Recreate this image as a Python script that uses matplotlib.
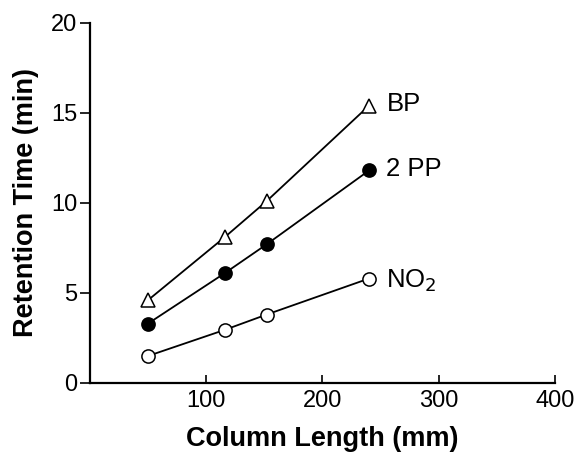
import matplotlib
matplotlib.use("Agg")
import matplotlib.pyplot as plt

plt.rcParams["font.family"] = ["Liberation Sans", "DejaVu Sans"]

# column length (mm) and retention times (min) for each solute
column_length = [50, 116, 152, 240]
bp_time = [4.6, 8.1, 10.1, 15.4]
pp_time = [3.3, 6.1, 7.7, 11.8]
no2_time = [1.5, 2.95, 3.8, 5.8]

x_ticks = [100, 200, 300, 400]
y_ticks = [0, 5, 10, 15, 20]

fig = plt.figure(figsize=(5.8, 4.57), dpi=100)
ax = fig.add_axes([0.155, 0.162, 0.802, 0.788])

line_kw = dict(color="black", linewidth=1.3, markersize=9.5, markeredgewidth=1.1,
               markeredgecolor="black")
ax.plot(column_length, bp_time, marker="^", markerfacecolor="white", **line_kw)
ax.plot(column_length, pp_time, marker="o", markerfacecolor="black", **line_kw)
ax.plot(column_length, no2_time, marker="o", markerfacecolor="white", **line_kw)

ax.text(255, bp_time[-1] + 0.1, "BP", fontsize=18.5, va="center", ha="left")
ax.text(255, pp_time[-1] + 0.1, "2 PP", fontsize=18.5, va="center", ha="left")
ax.text(255, no2_time[-1] - 0.1, "NO$_2$", fontsize=18.5, va="center", ha="left")

ax.set_xlim(0, 400)
ax.set_ylim(0, 20)
ax.set_xticks(x_ticks)
ax.set_yticks(y_ticks)
ax.tick_params(axis="x", direction="in", length=6, width=1.2, labelsize=17, pad=5)
ax.tick_params(axis="y", direction="out", length=7, width=1.2, labelsize=17, pad=2)

for side in ("top", "right"):
    ax.spines[side].set_visible(False)
for side in ("left", "bottom"):
    ax.spines[side].set_linewidth(1.6)

ax.set_xlabel("Column Length (mm)", fontsize=19.5, fontweight="bold", labelpad=10)
ax.set_ylabel("Retention Time (min)", fontsize=19.5, fontweight="bold", labelpad=9)

fig.savefig("out.png", dpi=100)
